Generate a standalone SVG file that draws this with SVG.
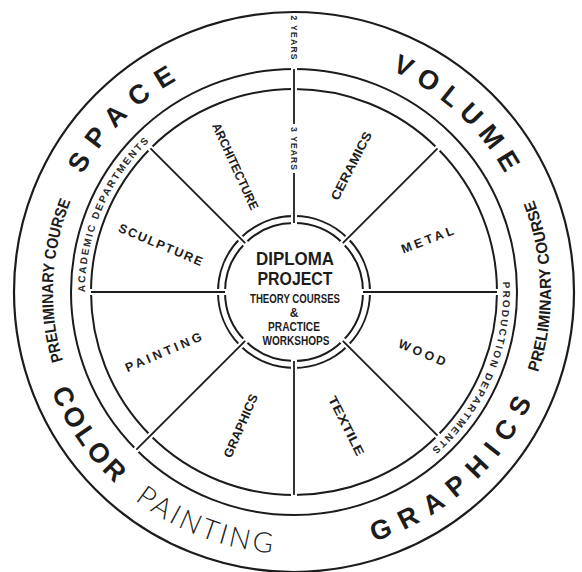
<svg xmlns="http://www.w3.org/2000/svg" width="582" height="572" viewBox="0 0 582 572">
<style>
.ring{fill:none;stroke:#1c1c1c;stroke-width:2}
.gap{stroke:#fff;stroke-width:6;stroke-linecap:butt}
.spoke{stroke:#1c1c1c;stroke-width:1.8;stroke-linecap:butt}
.big{font-family:"Liberation Sans",Arial,sans-serif;font-weight:bold;font-size:27px;fill:#1c1c1c}
.light{font-family:"Lato","Liberation Sans",sans-serif;font-weight:300;font-size:28px;fill:#1c1c1c}
.pre{font-family:"Liberation Sans",Arial,sans-serif;font-weight:bold;font-size:16px;fill:#1c1c1c}
.dept{font-family:"Liberation Sans",Arial,sans-serif;font-weight:bold;font-size:10px;fill:#2a2a2a}
.lab{font-family:"Liberation Sans",Arial,sans-serif;font-weight:bold;font-size:12.5px;fill:#1c1c1c}
.yr{font-family:"Liberation Sans",Arial,sans-serif;font-weight:bold;font-size:8.5px;fill:#2a2a2a}
.ctr{font-family:"Liberation Sans",Arial,sans-serif;font-weight:bold;fill:#1c1c1c;text-anchor:middle}
</style>
<defs>
<path id="p-space" d="M 52 292 A 242 242 0 0 1 294 50"/>
<path id="p-volume" d="M 282.2 50.3 A 242 242 0 0 1 535.7 280.2"/>
<path id="p-graphics" d="M 278.2 553.5 A 262 262 0 0 0 555.5 307.8"/>
<path id="p-color" d="M 36.3 244.7 A 262 262 0 0 0 246.7 549.7"/>
<path id="p-painting" d="M 54.4 397.9 A 262 262 0 0 0 399.9 531.6"/>
<path id="p-prelim-l" d="M 115.5 453.9 A 241 241 0 0 1 132.1 113.5"/>
<path id="p-prelim-r" d="M 480.1 469.2 A 257 257 0 0 0 471.2 105.9"/>
<path id="p-acad" d="M 100.2 370.3 A 209 209 0 0 1 215.7 98.2"/>
<path id="p-prod" d="M 487.8 213.7 A 209 209 0 0 1 372.3 485.8"/>
</defs>
<rect width="582" height="572" fill="#fff"/>
<g id="rings">
<circle class="ring" cx="294" cy="292" r="280" style="stroke-width:2.2"/>
<circle class="ring" cx="294" cy="292" r="223"/>
<circle class="ring" cx="294" cy="292" r="203"/>
<circle class="ring" cx="294" cy="292" r="76"/>
<circle class="ring" cx="294" cy="292" r="69"/>
</g>
<g id="connectors">
<g>
<line class="gap" x1="360" y1="292" x2="374" y2="292"/>
<line class="gap" x1="493" y1="292" x2="501" y2="292"/>
<line class="gap" x1="340.67" y1="338.67" x2="350.57" y2="348.57"/>
<line class="gap" x1="434.71" y1="432.71" x2="440.37" y2="438.37"/>
<line class="gap" x1="294" y1="358" x2="294" y2="372"/>
<line class="gap" x1="294" y1="491" x2="294" y2="499"/>
<line class="gap" x1="247.33" y1="338.67" x2="237.43" y2="348.57"/>
<line class="gap" x1="153.29" y1="432.71" x2="147.63" y2="438.37"/>
<line class="gap" x1="139.14" y1="446.86" x2="133.49" y2="452.51"/>
<line class="gap" x1="228" y1="292" x2="214" y2="292"/>
<line class="gap" x1="95" y1="292" x2="87" y2="292"/>
<line class="gap" x1="247.33" y1="245.33" x2="237.43" y2="235.43"/>
<line class="gap" x1="153.29" y1="151.29" x2="147.63" y2="145.63"/>
<line class="gap" x1="294" y1="226" x2="294" y2="212"/>
<line class="gap" x1="294" y1="93" x2="294" y2="85"/>
<line class="gap" x1="294" y1="73" x2="294" y2="65"/>
<line class="gap" x1="340.67" y1="245.33" x2="350.57" y2="235.43"/>
<line class="gap" x1="434.71" y1="151.29" x2="440.37" y2="145.63"/>
</g>
<line class="spoke" x1="363" y1="292" x2="497" y2="292"/>
<line class="spoke" x1="342.79" y1="340.79" x2="437.54" y2="435.54"/>
<line class="spoke" x1="294" y1="361" x2="294" y2="495"/>
<line class="spoke" x1="245.21" y1="340.79" x2="136.32" y2="449.68"/>
<line class="spoke" x1="225" y1="292" x2="91" y2="292"/>
<line class="spoke" x1="245.21" y1="243.21" x2="150.46" y2="148.46"/>
<line class="spoke" x1="294" y1="223" x2="294" y2="173"/>
<line class="spoke" x1="294" y1="124" x2="294" y2="69"/>
<line class="spoke" x1="342.79" y1="243.21" x2="437.54" y2="148.46"/>
</g>
<g id="outer-band">
<text class="big"><textPath href="#p-space" startOffset="50%" text-anchor="middle" textLength="135" lengthAdjust="spacing">SPACE</textPath></text>
<text class="big"><textPath href="#p-volume" startOffset="50%" text-anchor="middle" textLength="156" lengthAdjust="spacing">VOLUME</textPath></text>
<text class="big"><textPath href="#p-graphics" startOffset="50%" text-anchor="middle" textLength="217" lengthAdjust="spacing">GRAPHICS</textPath></text>
<text class="big"><textPath href="#p-color" startOffset="50%" text-anchor="middle" textLength="113" lengthAdjust="spacing">COLOR</textPath></text>
<text class="light"><textPath href="#p-painting" startOffset="50%" text-anchor="middle" textLength="149" lengthAdjust="spacing">PAINTING</textPath></text>
<text class="pre"><textPath href="#p-prelim-l" startOffset="50%" text-anchor="middle" textLength="163" lengthAdjust="spacingAndGlyphs">PRELIMINARY COURSE</textPath></text>
<text class="pre"><textPath href="#p-prelim-r" startOffset="50%" text-anchor="middle" textLength="176" lengthAdjust="spacingAndGlyphs">PRELIMINARY COURSE</textPath></text>
<text class="yr" transform="translate(294,37.5) rotate(90)" text-anchor="middle" dominant-baseline="central" textLength="44" lengthAdjust="spacing">2 YEARS</text>
</g>
<g id="department-band">
<text class="dept"><textPath href="#p-acad" startOffset="50%" text-anchor="middle" textLength="168" lengthAdjust="spacing">ACADEMIC DEPARTMENTS</textPath></text>
<text class="dept"><textPath href="#p-prod" startOffset="50%" text-anchor="middle" textLength="188" lengthAdjust="spacing">PRODUCTION DEPARTMENTS</textPath></text>
<text class="yr" transform="translate(294,148.5) rotate(90)" text-anchor="middle" dominant-baseline="central" textLength="43" lengthAdjust="spacing">3 YEARS</text>
</g>
<g id="architecture"><text class="lab" transform="translate(235,166.5) rotate(65.3)" text-anchor="middle" dominant-baseline="central" textLength="94" lengthAdjust="spacingAndGlyphs">ARCHITECTURE</text></g>
<g id="ceramics"><text class="lab" transform="translate(351.5,166) rotate(-62.8)" text-anchor="middle" dominant-baseline="central" textLength="75" lengthAdjust="spacingAndGlyphs">CERAMICS</text></g>
<g id="metal"><text class="lab" transform="translate(427.5,240) rotate(-20.7)" text-anchor="middle" dominant-baseline="central" textLength="55" lengthAdjust="spacing">METAL</text></g>
<g id="wood"><text class="lab" transform="translate(422,353) rotate(22.6)" text-anchor="middle" dominant-baseline="central" textLength="50" lengthAdjust="spacing">WOOD</text></g>
<g id="textile"><text class="lab" transform="translate(346,426) rotate(63.4)" text-anchor="middle" dominant-baseline="central" textLength="65" lengthAdjust="spacingAndGlyphs">TEXTILE</text></g>
<g id="graphics"><text class="lab" transform="translate(241,426) rotate(-66.4)" text-anchor="middle" dominant-baseline="central" textLength="68" lengthAdjust="spacingAndGlyphs">GRAPHICS</text></g>
<g id="painting"><text class="lab" transform="translate(163.5,352.5) rotate(-23.2)" text-anchor="middle" dominant-baseline="central" textLength="82" lengthAdjust="spacing">PAINTING</text></g>
<g id="sculpture"><text class="lab" transform="translate(160.5,245) rotate(22.9)" text-anchor="middle" dominant-baseline="central" textLength="90" lengthAdjust="spacing">SCULPTURE</text></g>
<g id="center">
<text class="ctr" x="295" y="265" font-size="18" textLength="78" lengthAdjust="spacingAndGlyphs">DIPLOMA</text>
<text class="ctr" x="295" y="285" font-size="18" textLength="75" lengthAdjust="spacingAndGlyphs">PROJECT</text>
<text class="ctr" x="295" y="303" font-size="13" textLength="90" lengthAdjust="spacingAndGlyphs">THEORY COURSES</text>
<text class="ctr" x="294" y="317" font-size="12">&amp;</text>
<text class="ctr" x="294" y="331" font-size="13" textLength="52" lengthAdjust="spacingAndGlyphs">PRACTICE</text>
<text class="ctr" x="296" y="345" font-size="13" textLength="67" lengthAdjust="spacingAndGlyphs">WORKSHOPS</text>
</g>
</svg>
